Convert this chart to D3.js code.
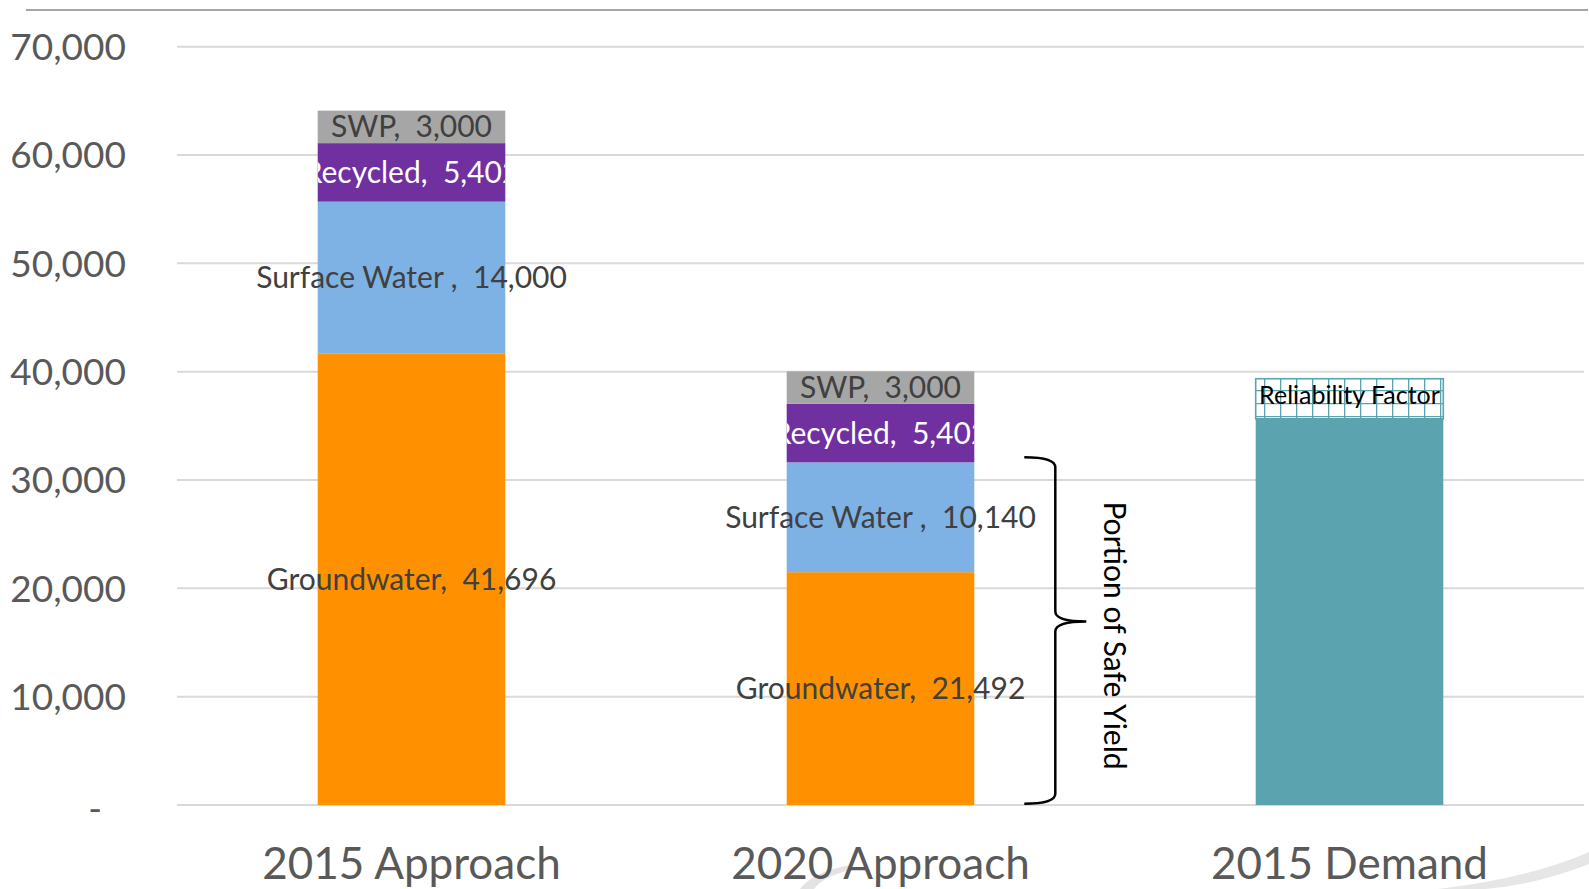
<!DOCTYPE html>
<html>
<head>
<meta charset="utf-8">
<script src="https://cdn.jsdelivr.net/npm/d3@7/dist/d3.min.js"></script>
<style>
  body { margin:0; background:#fff; }
  svg { display:block; font-family: Lato, "Open Sans", sans-serif; }
  .seg-label { white-space: pre; }
</style>
</head>
<body>
<svg id="chart" width="1589" height="889"></svg>
<script>
// ── data ──────────────────────────────────────
const categories   = ["2015 Approach", "2020 Approach", "2015 Demand"];
const groundwater  = [41696, 21492, 0];
const surfaceWater = [14000, 10140, 0];
const recycled     = [5402, 5402, 0];
const swp          = [3000, 3000, 0];
const demand       = [0, 0, 35650];
const reliability  = [0, 0, 3700];
const yTicks       = [0, 10000, 20000, 30000, 40000, 50000, 60000, 70000];
const bracketRange = [120, 32100];   // portion of safe yield (2020)

const series = [
  { key:"gw",  name:"Groundwater",    vals:groundwater,  color:"#ff9100", text:"#404040" },
  { key:"sw",  name:"Surface Water ", vals:surfaceWater, color:"#7eb1e4", text:"#404040" },
  { key:"rec", name:"Recycled",       vals:recycled,     color:"#7030a0", text:"#ffffff", clip:true },
  { key:"swp", name:"SWP",            vals:swp,          color:"#a6a6a6", text:"#404040" },
  { key:"dem", name:null,             vals:demand,       color:"#5ba3af" },
  { key:"rel", name:null,             vals:reliability,  color:"url(#relPat)" },
];

const rows = categories.map((c, i) => {
  const r = { cat:c };
  series.forEach(s => r[s.key] = s.vals[i]);
  return r;
});

// ── scales ────────────────────────────────────
const svg = d3.select("#chart");
const x = d3.scaleBand().domain(categories).range([177, 1584]).paddingInner(0.6).paddingOuter(0.3);
const y = d3.scaleLinear().domain([0, 70000]).range([805, 46.7]);

const defs = svg.append("defs");
const pat = defs.append("pattern").attr("id","relPat").attr("patternUnits","userSpaceOnUse")
  .attr("width",16).attr("height",13);
pat.append("rect").attr("width",16).attr("height",13).attr("fill","#fff");
pat.append("path").attr("d","M0.5,0 V13 M0,0.5 H16").attr("stroke","#5ba3af").attr("stroke-width",1.6);

// slide frame line + decorative swoosh
svg.append("line").attr("x1",26).attr("x2",1588).attr("y1",10).attr("y2",10)
  .attr("stroke","#a6a6a6").attr("stroke-width",2);
svg.append("path").attr("d","M800,889 Q812,872 850,865 L853,869 Q822,877 814,889 Z").attr("fill","#e3e3e3");
svg.append("path").attr("d","M1438,889 Q1530,878 1589,852 L1589,864 Q1535,885 1485,889 Z").attr("fill","#e6e6e6");

// gridlines
svg.append("g").selectAll("line").data(yTicks).join("line")
  .attr("x1",177).attr("x2",1584)
  .attr("y1",d=>y(d)).attr("y2",d=>y(d))
  .attr("stroke","#d9d9d9").attr("stroke-width",2);

// y axis labels
const yAxis = svg.append("g").attr("transform","translate(126,0)")
  .call(d3.axisLeft(y).tickValues(yTicks).tickSize(0).tickPadding(0)
    .tickFormat(d => d === 0 ? "-" : d3.format(",")(d)));
yAxis.select(".domain").remove();
yAxis.selectAll("text").attr("font-size",37).attr("fill","#595959")
  .attr("font-family","Lato, sans-serif").attr("dy","0.35em");
yAxis.selectAll(".tick").filter(d=>d===0).select("text").attr("x",-24).attr("dy","0.45em");

// x axis labels
const xAxis = svg.append("g").attr("transform","translate(0,805)")
  .call(d3.axisBottom(x).tickSize(0).tickPadding(0));
xAxis.select(".domain").remove();
xAxis.selectAll("text").attr("font-size",44).attr("fill","#595959")
  .attr("font-family","Lato, sans-serif").attr("dy",0).attr("y",74);

// stacked bars
const stack = d3.stack().keys(series.map(s=>s.key))(rows);
const gBars = svg.append("g");
stack.forEach((layer, li) => {
  const s = series[li];
  gBars.append("g").selectAll("rect").data(layer.filter(d => d[1] > d[0])).join("rect")
    .attr("x", d => x(d.data.cat))
    .attr("width", x.bandwidth())
    .attr("y", d => y(d[1]))
    .attr("height", d => y(d[0]) - y(d[1]))
    .attr("fill", s.color)
    .attr("stroke", s.key === "rel" ? "#5ba3af" : "none")
    .attr("stroke-width", 1.6);
});

// segment labels
const gLab = svg.append("g");
stack.forEach((layer, li) => {
  const s = series[li];
  layer.filter(d => d[1] > d[0]).forEach((d, i) => {
    const cx = x(d.data.cat) + x.bandwidth()/2;
    const cy = (y(d[0]) + y(d[1])) / 2;
    if (s.name) {
      const t = gLab.append("text").attr("class","seg-label")
        .attr("x",cx).attr("y",cy).attr("dy","0.35em")
        .attr("text-anchor","middle").attr("font-size",30)
        .attr("fill",s.text)
        .text(`${s.name},  ${d3.format(",")(d[1]-d[0])}`);
      if (s.clip) {
        const id = `clip-${s.key}-${i}`;
        defs.append("clipPath").attr("id",id).append("rect")
          .attr("x",x(d.data.cat)).attr("width",x.bandwidth())
          .attr("y",y(d[1])).attr("height",y(d[0])-y(d[1]));
        t.attr("clip-path",`url(#${id})`);
      }
    } else if (s.key === "rel") {
      gLab.append("text").attr("x",cx).attr("y",cy - 4).attr("dy","0.35em")
        .attr("text-anchor","middle").attr("font-size",25).attr("fill","#000")
        .text("Reliability Factor");
    }
  });
});

// bracket: portion of safe yield
const bx = x("2020 Approach") + x.bandwidth();
const yT = y(bracketRange[1]), yB = y(bracketRange[0]), yM = (yT + yB) / 2 - 9;
const x0 = bx + 50, x1 = bx + 81, x2 = bx + 112;
svg.append("path")
  .attr("d", `M${x0},${yT} Q${x1},${yT} ${x1},${yT+10} L${x1},${yM-10} Q${x1},${yM} ${x2},${yM}
              Q${x1},${yM} ${x1},${yM+10} L${x1},${yB-10} Q${x1},${yB} ${x0},${yB}`)
  .attr("fill","none").attr("stroke","#000").attr("stroke-width",2.5);
svg.append("text")
  .attr("transform", `translate(${bx+140},${(yT+yB)/2 + 5}) rotate(90)`)
  .attr("text-anchor","middle").attr("dy","0.35em")
  .attr("font-size",30).attr("fill","#000")
  .text("Portion of Safe Yield");
</script>
</body>
</html>
